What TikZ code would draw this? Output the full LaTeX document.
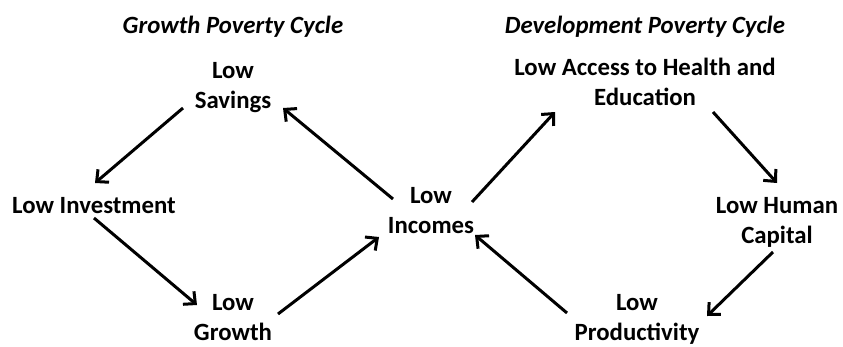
\documentclass[tikz,border=0pt]{standalone}
\usepackage{fontspec}
\setmainfont{Carlito}
\usetikzlibrary{arrows.meta}

\tikzset{every path/.style={line width=3 pt}}
\tikzset{lbl/.style={font=\fontsize{24.8}{30}\selectfont\bfseries, align=center, anchor=base, inner sep=0pt}}
\tikzset{ttl/.style={font=\fontsize{24.8}{30}\selectfont\bfseries\itshape, anchor=base, inner sep=0pt}}
\tikzset{arr/.style={-{Straight Barb[length=9pt,width=17pt]}}}

\begin{document}
\begin{tikzpicture}[x=1pt,y=-1pt]
\useasboundingbox (0,0) rectangle (843,346);

\node[ttl] (tgro) at (233,33) {Growth Poverty Cycle};
\node[ttl] (tdev) at (645,33) {Development Poverty Cycle};

\node[lbl] (sav) at (233,108) {Low\\Savings};
\node[lbl] (inv) at (94,213) {Low Investment};
\node[lbl] (gro) at (233,340) {Low\\Growth};
\node[lbl] (inc) at (431,233) {Low\\Incomes};
\node[lbl] (acc) at (645,105) {Low Access to Health and\\Education};
\node[lbl] (hum) at (777,243) {Low Human\\Capital};
\node[lbl] (pro) at (637,340) {Low\\Productivity};

\draw[arr] ([shift={(-50,0)}]sav.base) -- ([shift={(1,-30)}]inv.base);
\draw[arr] ([shift={(0,5)}]inv.base) -- ([shift={(-36,-35)}]gro.base);
\draw[arr] ([shift={(45,-26)}]gro.base) -- ([shift={(-52,4)}]inc.base);
\draw[arr] ([shift={(-38,-34)}]inc.base) -- ([shift={(50,0)}]sav.base);
\draw[arr] ([shift={(41,-31)}]inc.base) -- ([shift={(-90,7)}]acc.base);
\draw[arr] ([shift={(68,7)}]acc.base) -- ([shift={(0,-60)}]hum.base);
\draw[arr] ([shift={(-4,9)}]hum.base) -- ([shift={(70,-24)}]pro.base);
\draw[arr] ([shift={(-70,-27)}]pro.base) -- ([shift={(44,2)}]inc.base);
\end{tikzpicture}
\end{document}
